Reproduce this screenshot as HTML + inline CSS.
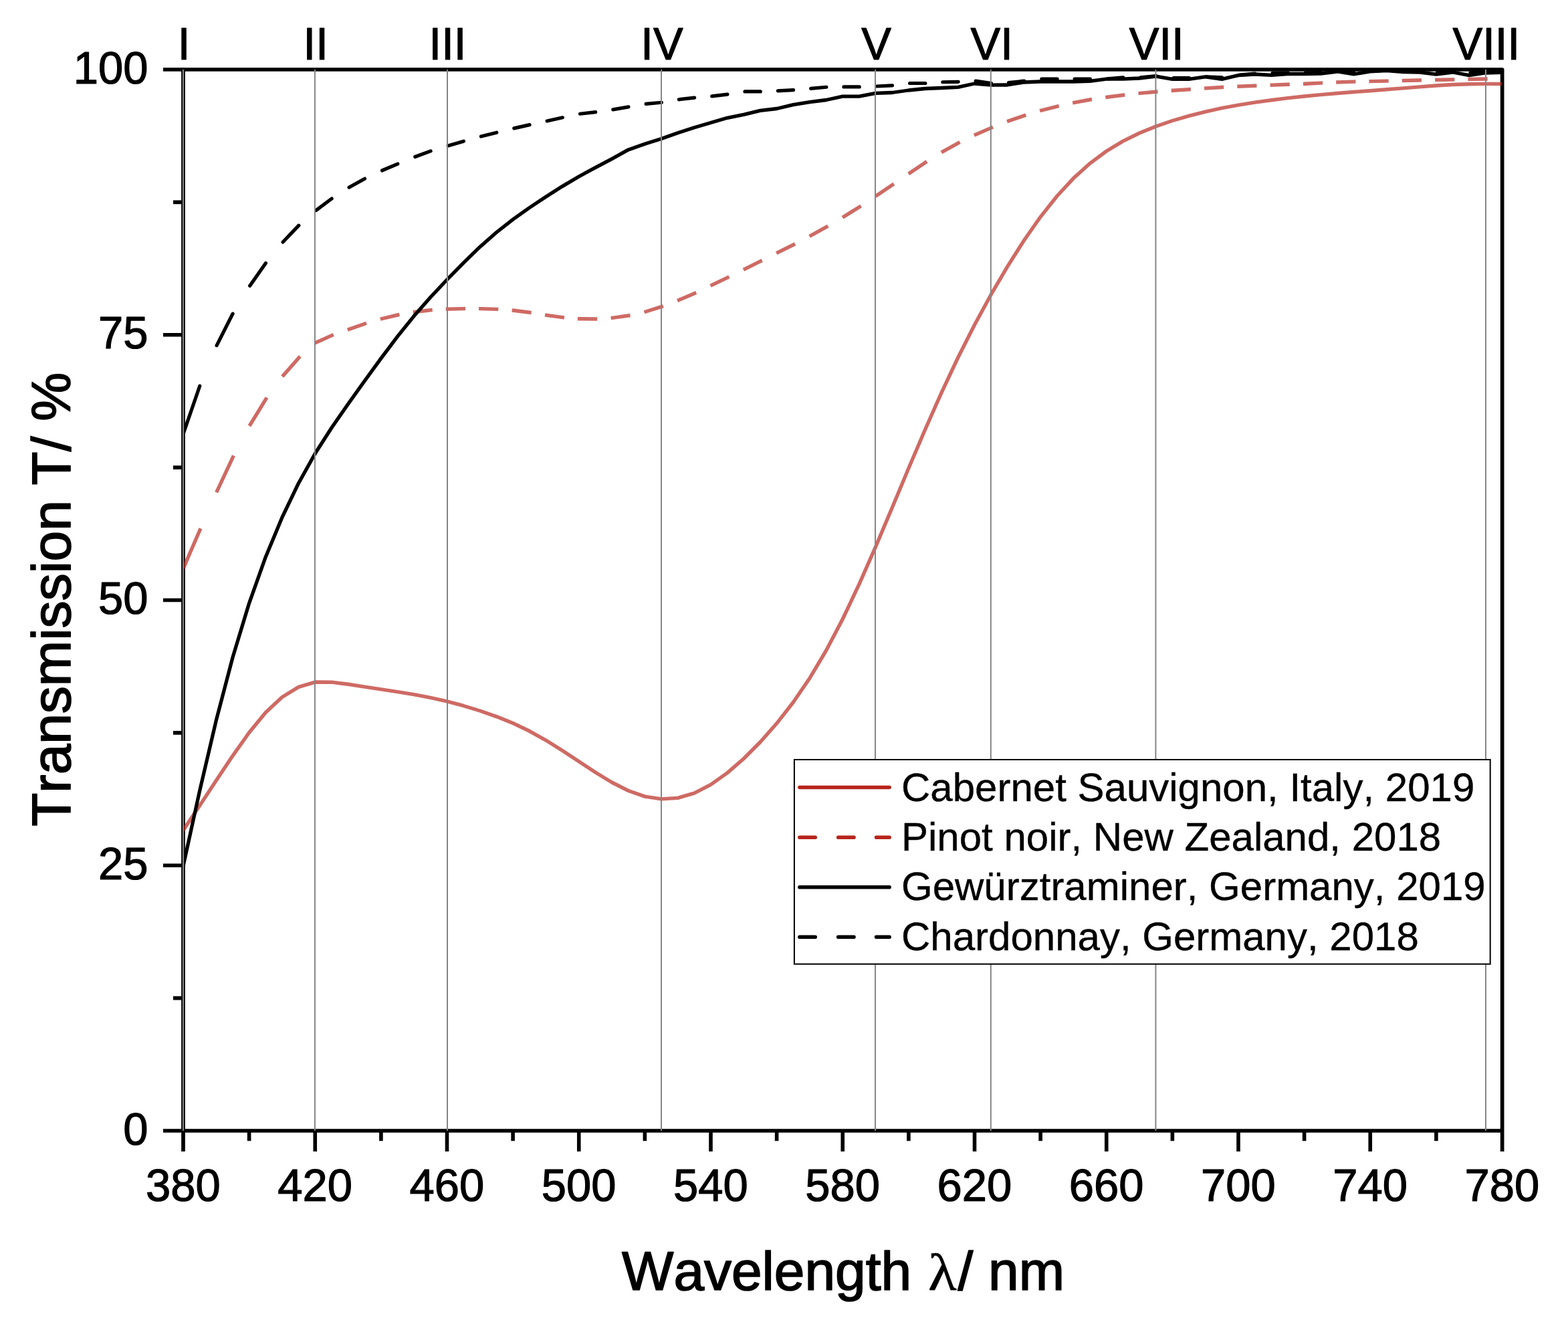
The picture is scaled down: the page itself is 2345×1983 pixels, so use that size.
<!DOCTYPE html>
<html lang="en"><head><meta charset="utf-8"><title>Transmission spectra of wines</title>
<style>
html,body{margin:0;padding:0;background:#fff;}
body{width:2345px;height:1983px;overflow:hidden;}
svg{display:block;}
text{font-family:"Liberation Sans",sans-serif;fill:#000;font-kerning:none;stroke:#000;stroke-linejoin:round;}
.tk{font-size:67px;stroke-width:1.2;}
.ti{font-size:82px;stroke-width:1.7;}
.lg{font-size:60px;stroke-width:0.4;}
.sym{font-family:"Liberation Serif","DejaVu Serif",serif;}
</style></head><body>
<svg width="2345" height="1983" viewBox="0 0 2345 1983">
<rect x="0" y="0" width="2345" height="1983" fill="#fff"/>
<g id="axes" fill="none" stroke="#000" stroke-width="5.7" stroke-linecap="butt" stroke-linejoin="miter">
<path d="M244 104 H2246.65 V1722" stroke-linejoin="round"/>
<path d="M244 1691 H2246.5"/>
<path d="M274 101.45 V1722"/>
</g>
<g id="ticks" fill="none" stroke="#000" stroke-width="5.6">
<path d="M244 1294.25H274 M244 897.5H274 M244 500.75H274 M259 1492.62H274 M259 1095.88H274 M259 699.12H274 M259 302.38H274 M471.25 1691V1722 M668.5 1691V1722 M865.75 1691V1722 M1063 1691V1722 M1260.25 1691V1722 M1457.5 1691V1722 M1654.75 1691V1722 M1852 1691V1722 M2049.25 1691V1722 M372.62 1691V1706.3 M569.88 1691V1706.3 M767.12 1691V1706.3 M964.38 1691V1706.3 M1161.62 1691V1706.3 M1358.88 1691V1706.3 M1556.12 1691V1706.3 M1753.38 1691V1706.3 M1950.62 1691V1706.3 M2147.88 1691V1706.3"/>
</g>
<defs><clipPath id="plotclip"><rect x="274.6" y="0" width="1974.5" height="1983"/></clipPath></defs>
<g id="curves" fill="none" clip-path="url(#plotclip)">
<path id="cabernet" d="M274 1241.71 L298.66 1204.75 L323.31 1167.34 L347.97 1130.32 L372.62 1095.52 L397.28 1065.5 L421.94 1042.43 L446.59 1027.33 L471.25 1020.05 L495.91 1020.19 L520.56 1023.28 L545.22 1027.11 L569.88 1030.89 L594.53 1034.63 L619.19 1038.67 L643.84 1043.37 L668.5 1048.95 L693.16 1055.48 L717.81 1063 L742.47 1071.59 L767.12 1081.52 L791.78 1093.28 L816.44 1107.06 L841.09 1122.47 L865.75 1138.77 L890.41 1155 L915.06 1170.02 L939.72 1182.49 L964.38 1191.08 L989.03 1194.83 L1013.69 1193.37 L1038.34 1186.08 L1063 1173.35 L1087.66 1155.91 L1112.31 1134.51 L1136.97 1109.75 L1161.62 1081.82 L1186.28 1050.25 L1210.94 1014.17 L1235.59 972.75 L1260.25 925.75 L1284.91 873.67 L1309.56 817.62 L1334.22 759.23 L1358.88 700.33 L1383.53 642.49 L1408.19 586.9 L1432.84 534.48 L1457.5 485.71 L1482.16 440.42 L1506.81 398.36 L1531.47 359.53 L1556.12 324.32 L1580.78 293.25 L1605.44 266.6 L1630.09 244.32 L1654.75 226.02 L1679.41 211.15 L1704.06 199 L1728.72 188.96 L1753.38 180.52 L1778.03 173.29 L1802.69 167.05 L1827.34 161.67 L1852 157.08 L1876.66 153.14 L1901.31 149.71 L1925.97 146.66 L1950.62 143.97 L1975.28 141.6 L1999.94 139.49 L2024.59 137.56 L2049.25 135.69 L2073.91 133.79 L2098.56 131.83 L2123.22 129.86 L2147.88 128.02 L2172.53 126.57 L2197.19 125.72 L2221.84 125.42 L2246.5 125.57" stroke="rgba(183,36,27,0.68)" stroke-width="5.4" stroke-linejoin="round" stroke-linecap="butt"/>
<path id="pinot" d="M275.43 847.1L298.91 792.76 M324.82 733.89L348.24 683.85 M374.41 634.69L397.6 596.86 M423.99 561.07L446.96 535.04 M473.15 512.01L496.22 501.62 M522.29 492.21L545.5 484.18 M571.37 476.52L594.76 471 M620.37 466.41L644.01 463.7 M669.42 462.18L693.27 461.62 M718.75 461.72L742.59 462.41 M768.34 464.29L791.95 467.26 M817.69 471.39L841.28 474.69 M866.63 476.76L890.51 477.03 M916.32 475.32L939.9 472.02 M966.04 465.98L989.3 458.69 M1015.56 448.58L1038.65 438.66 M1064.94 426.23L1087.98 415.11 M1114.27 402.15L1137.3 390.7 M1163.58 377.46L1186.61 365.97 M1212.95 352.14L1235.94 339.43 M1262.32 323.87L1285.26 309.48 M1311.66 291.97L1334.58 276.53 M1360.97 258.49L1383.89 242.96 M1410.2 226.6L1433.19 213.87 M1459.37 201.15L1482.47 191.14 M1508.55 180.92L1531.75 172.85 M1557.67 165.06L1581.02 159.05 M1606.81 153.35L1630.3 149 M1655.97 145.22L1679.58 142.22 M1705.18 139.42L1728.87 137.26 M1754.42 135.26L1778.17 133.7 M1803.73 131.96L1827.48 130.44 M1852.97 129.19L1876.78 128.22 M1902.27 127.16L1926.09 126.32 M1951.62 125.3L1975.41 124.13 M2000.89 122.9L2024.71 122.09 M2050.16 121.59L2074.02 121.13 M2099.49 120.52L2123.33 119.93 M2148.78 119.38L2172.64 118.96 M2198.09 118.54L2221.95 118.1" stroke="rgba(183,36,27,0.68)" stroke-width="5.4" stroke-linecap="square"/>
<path id="gewuerz" d="M274 1295.06 L298.66 1182.55 L323.31 1077.29 L347.97 983.23 L372.62 902.09 L397.28 832.95 L421.94 773.69 L446.59 722.45 L471.25 678.29 L495.91 639.7 L520.56 604.22 L545.22 569.79 L569.88 535.85 L594.53 503.13 L619.19 472.6 L643.84 444.47 L668.5 418.25 L693.16 393.11 L717.81 369.19 L742.47 347.48 L767.12 328.17 L791.78 310.64 L816.44 294.21 L841.09 278.6 L865.75 263.97 L890.41 250.6 L915.06 237.6 L939.72 223.9 L964.38 215.3 L989.03 207.4 L1013.69 198.7 L1038.34 190.7 L1063 183.5 L1087.66 176.3 L1112.31 171.4 L1136.97 165.4 L1161.62 162.5 L1186.28 156.7 L1210.94 152.7 L1235.59 149.5 L1260.25 144.2 L1284.91 144.2 L1309.56 139.4 L1334.22 138.5 L1358.88 135 L1383.53 132.5 L1408.19 131.5 L1432.84 130.3 L1457.5 125 L1482.16 127.2 L1506.81 127 L1531.47 123 L1556.12 122 L1580.78 122 L1605.44 122 L1630.09 121.3 L1654.75 118.2 L1679.41 118.2 L1704.06 117 L1728.72 114.1 L1753.38 118.4 L1778.03 118.4 L1802.69 114.8 L1827.34 118.4 L1852 112.7 L1876.66 111 L1901.31 112.4 L1925.97 110.5 L1950.62 110.5 L1975.28 110 L1999.94 107 L2024.59 110.9 L2049.25 106.9 L2073.91 105.5 L2098.56 107.6 L2123.22 108 L2147.88 111.2 L2172.53 108 L2197.19 112.6 L2221.84 109 L2246.5 108.3" stroke="#000" stroke-width="5.3" stroke-linejoin="round" stroke-linecap="butt"/>
<path id="chardonnay" d="M274.55 647.39L298.75 577.25 M324.08 516.63L348.1 469.16 M373.6 427.47L397.45 393.47 M423.11 362.04L446.8 337.16 M472.61 314.54L496.15 297.02 M522.05 280.34L545.48 267.24 M571.44 255.01L594.81 245.04 M620.78 234.48L644.13 225.87 M670.13 217.88L693.44 211.2 M719.46 204.09L742.76 198.16 M768.78 191.87L792.07 186.62 M818.1 181.02L841.39 175.82 M867.44 170.23L890.7 167.67 M916.74 163.91L940.01 159.85 M966.07 155.44L989.33 153.27 M1015.38 148.8L1038.64 146.06 M1064.69 143.9L1087.95 141.16 M1114.01 136.9L1137.27 136.9 M1163.32 135.9L1186.58 134.58 M1212.63 132.44L1235.89 130.27 M1261.95 129.9L1285.21 129.9 M1311.26 129.01L1334.52 127.78 M1360.58 124.5L1383.83 124.5 M1409.89 122.77L1433.14 122.29 M1459.18 121.15L1482.45 124.54 M1508.5 123.62L1531.77 121.17 M1557.83 118L1581.08 118 M1607.14 118L1630.39 118 M1656.44 117.86L1679.71 115.87 M1705.76 115.84L1729.02 113.67 M1755.08 116.6L1778.33 116.6 M1804.39 114.78L1827.64 115.91 M1853.69 112.15L1876.96 110.07 M1903.01 109.47L1926.27 108.99 M1952.32 108.97L1975.58 108.49 M2001.63 106.6L2024.89 108.02 M2050.95 106.4L2074.21 104.98 M2100.26 105.6L2123.52 107.02 M2149.57 107.93L2172.83 106.99 M2198.89 108.93L2222.14 107.99" stroke="#000" stroke-width="5.2" stroke-linecap="round"/>
</g>
<g id="markers" stroke="#858585" stroke-width="2" fill="none">
<path d="M274 104V1691 M470.9 104V1691 M669 104V1691 M989 104V1691 M1309 104V1691 M1481.8 104V1691 M1728.4 104V1691 M2222 104V1691"/>
</g>
<g id="legend">
<rect x="1187.9" y="1136" width="1040.8" height="305.7" fill="#fff" stroke="#000" stroke-width="2"/>
<path d="M1195.9 1177.5H1330.1" stroke="#b7241b" stroke-width="5.6" stroke-linecap="round" fill="none"/>
<text class="lg" x="1348" y="1198">Cabernet Sauvignon, Italy, 2019</text>
<path d="M1195.9 1252.2h23.3 M1253.7 1252.2h23.3 M1310.6 1252.2H1330.1" stroke="#b7241b" stroke-width="5.6" stroke-linecap="round" fill="none"/>
<text class="lg" x="1348" y="1272.4">Pinot noir, New Zealand, 2018</text>
<path d="M1195.9 1326.7H1330.1" stroke="#000" stroke-width="5.6" stroke-linecap="round" fill="none"/>
<text class="lg" x="1348" y="1346.4">Gewürztraminer, Germany, 2019</text>
<path d="M1195.9 1401.2h23.3 M1253.7 1401.2h23.3 M1310.6 1401.2H1330.1" stroke="#000" stroke-width="5.6" stroke-linecap="round" fill="none"/>
<text class="lg" x="1348" y="1421">Chardonnay, Germany, 2018</text>
</g>
<g id="labels">
<text class="tk" text-anchor="end" transform="translate(221.6 1711.6) scale(1 1.035)">0</text>
<text class="tk" text-anchor="end" transform="translate(221.6 1314.85) scale(1 1.035)">25</text>
<text class="tk" text-anchor="end" transform="translate(221.6 918.1) scale(1 1.035)">50</text>
<text class="tk" text-anchor="end" transform="translate(221.6 521.35) scale(1 1.035)">75</text>
<text class="tk" text-anchor="end" transform="translate(221.6 124.6) scale(1 1.035)">100</text>
<text class="tk" text-anchor="middle" transform="translate(274 1796.2) scale(1 1.035)">380</text>
<text class="tk" text-anchor="middle" transform="translate(471.25 1796.2) scale(1 1.035)">420</text>
<text class="tk" text-anchor="middle" transform="translate(668.5 1796.2) scale(1 1.035)">460</text>
<text class="tk" text-anchor="middle" transform="translate(865.75 1796.2) scale(1 1.035)">500</text>
<text class="tk" text-anchor="middle" transform="translate(1063 1796.2) scale(1 1.035)">540</text>
<text class="tk" text-anchor="middle" transform="translate(1260.25 1796.2) scale(1 1.035)">580</text>
<text class="tk" text-anchor="middle" transform="translate(1457.5 1796.2) scale(1 1.035)">620</text>
<text class="tk" text-anchor="middle" transform="translate(1654.75 1796.2) scale(1 1.035)">660</text>
<text class="tk" text-anchor="middle" transform="translate(1852 1796.2) scale(1 1.035)">700</text>
<text class="tk" text-anchor="middle" transform="translate(2049.25 1796.2) scale(1 1.035)">740</text>
<text class="tk" text-anchor="middle" transform="translate(2246.5 1796.2) scale(1 1.035)">780</text>
<text class="tk" text-anchor="middle" transform="translate(274.95 88.7) scale(1 1.035)">I</text>
<text class="tk" text-anchor="middle" transform="translate(472.2 88.7) scale(1 1.035)">II</text>
<text class="tk" text-anchor="middle" transform="translate(669.45 88.7) scale(1 1.035)">III</text>
<text class="tk" text-anchor="middle" transform="translate(989.98 88.7) scale(1 1.035)">IV</text>
<text class="tk" text-anchor="middle" transform="translate(1310.51 88.7) scale(1 1.035)">V</text>
<text class="tk" text-anchor="middle" transform="translate(1483.11 88.7) scale(1 1.035)">VI</text>
<text class="tk" text-anchor="middle" transform="translate(1729.67 88.7) scale(1 1.035)">VII</text>
<text class="tk" text-anchor="middle" transform="translate(2222.79 88.7) scale(1 1.035)">VIII</text>
<text class="ti" id="xtitle" y="1928.8"><tspan x="930">Wavelength </tspan><tspan class="sym" x="1388" textLength="42.75" lengthAdjust="spacingAndGlyphs" style="font-size:78px;stroke-width:0.6">λ</tspan><tspan x="1432.5">/ nm</tspan></text>
<text class="ti" id="ytitle" text-anchor="middle" transform="translate(104.6 896.3) rotate(-90)">Transmission T/ %</text>
</g>
</svg>
</body></html>
